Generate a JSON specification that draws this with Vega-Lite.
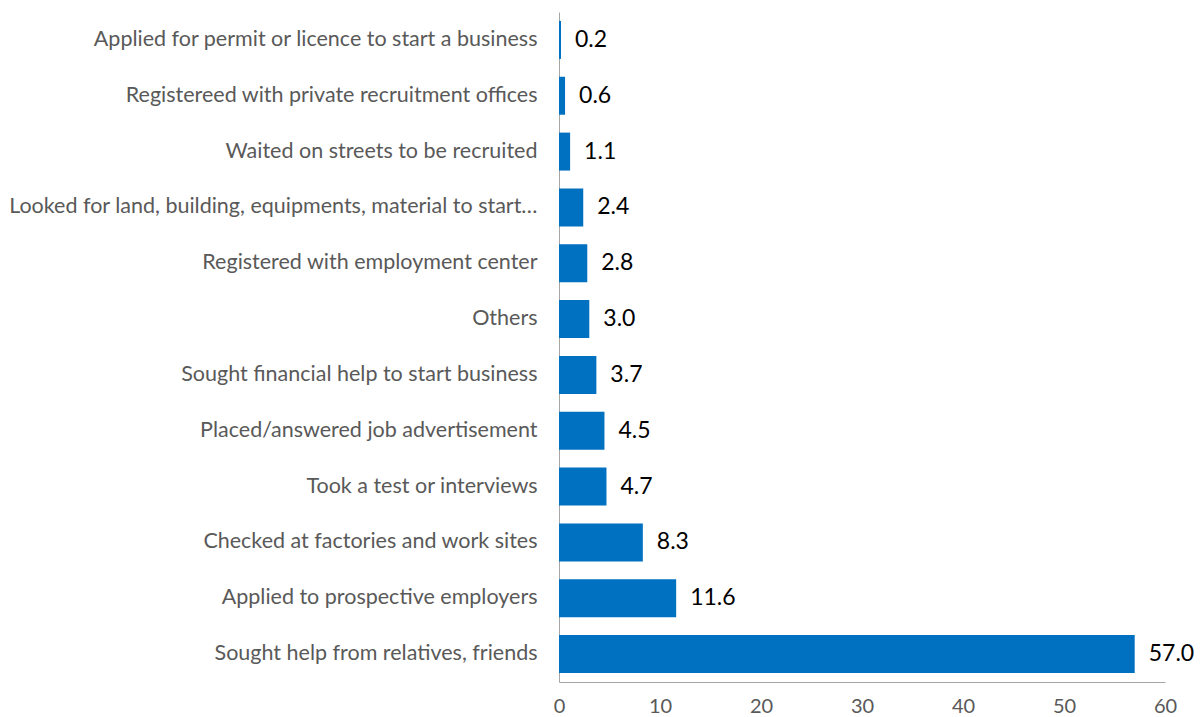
{
  "$schema": "https://vega.github.io/schema/vega-lite/v6.json",
  "autosize": {"type": "none"},
  "padding": {"left": 559, "top": 12, "right": 35, "bottom": 35},
  "width": 606,
  "height": 670,
  "background": "white",
  "config": {"view": {"stroke": null}, "font": "Lato"},
  "data": {"values": [
    {"activity": "Applied for permit or licence to start a business", "pct": 0.2},
    {"activity": "Registereed with private recruitment offices", "pct": 0.6},
    {"activity": "Waited on streets to be recruited", "pct": 1.1},
    {"activity": "Looked for land, building, equipments, material to start…", "pct": 2.4},
    {"activity": "Registered with employment center", "pct": 2.8},
    {"activity": "Others", "pct": 3.0},
    {"activity": "Sought financial help to start business", "pct": 3.7},
    {"activity": "Placed/answered job advertisement", "pct": 4.5},
    {"activity": "Took a test or interviews", "pct": 4.7},
    {"activity": "Checked at factories and work sites", "pct": 8.3},
    {"activity": "Applied to prospective employers ", "pct": 11.6},
    {"activity": "Sought help from relatives, friends", "pct": 57.0}
  ]},
  "encoding": {
    "y": {"field": "activity", "type": "nominal", "sort": null,
      "scale": {"paddingInner": 0.32, "paddingOuter": 0.16},
      "axis": {"title": null, "ticks": false, "domainColor": "#a6a6a6", "labelFont": "Lato", "labelFontSize": 21.5, "labelColor": "#595959", "labelPadding": 22, "labelLimit": 600}},
    "x": {"field": "pct", "type": "quantitative",
      "scale": {"domain": [0, 60], "nice": false},
      "axis": {"title": null, "values": [0,10,20,30,40,50,60], "grid": false, "ticks": false, "domainColor": "#a6a6a6", "labelFont": "Lato", "labelFontSize": 20, "labelColor": "#595959", "labelPadding": 14, "labelFlush": false}}
  },
  "layer": [
    {"mark": {"type": "bar", "color": "#0070C0"}},
    {"mark": {"type": "text", "align": "left", "dx": 14, "font": "Lato", "fontSize": 23, "color": "#000000"},
     "encoding": {"text": {"field": "pct", "type": "quantitative", "format": ".1f"}}}
  ]
}
